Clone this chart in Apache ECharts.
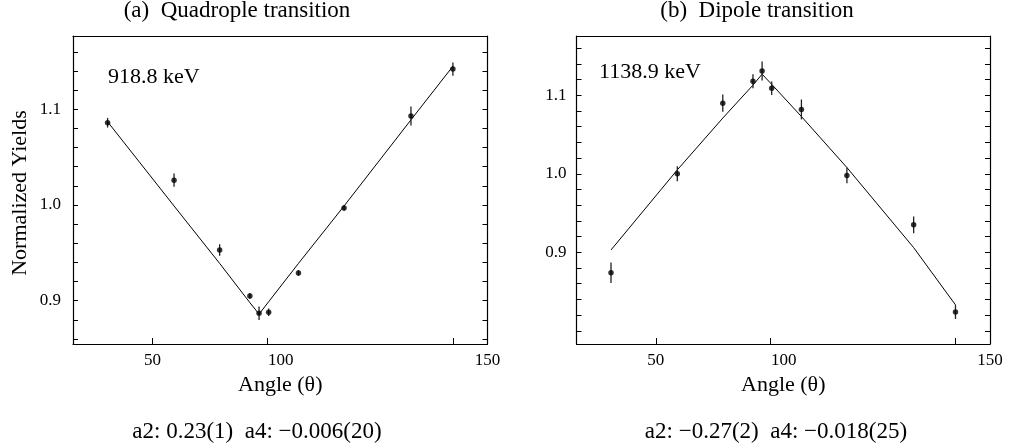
<!DOCTYPE html>
<html>
<head>
<meta charset="utf-8">
<script src="https://cdn.jsdelivr.net/npm/echarts@6/dist/echarts.min.js"></script>
<style>
html,body{margin:0;padding:0;background:#fff;}
#chart{width:1010px;height:444px;}
</style>
</head>
<body>
<div id="chart"></div>
<script>
// ---- data ----
const angles    = [30.4, 59.4, 79.3, 92.5, 96.5, 100.7, 113.7, 133.6, 162.8, 181.1];
const quadYield = [1.086, 1.026, 0.953, 0.905, 0.887, 0.888, 0.929, 0.997, 1.093, 1.142];
const quadErr   = [0.005, 0.007, 0.006, 0.003, 0.007, 0.004, 0.003, 0.003, 0.010, 0.007];
const quadFit   = [1.087, 0.999, 0.939, 0.898, 0.886, 0.899, 0.939, 0.999, 1.089, 1.145];
const dipYield  = [0.874, 1.000, 1.090, 1.118, 1.131, 1.109, 1.082, 0.998, 0.935, 0.824];
const dipErr    = [0.013, 0.0095, 0.011, 0.009, 0.012, 0.0085, 0.0127, 0.010, 0.0106, 0.009];
const dipFit    = [0.903, 1.005, 1.071, 1.113, 1.127, 1.114, 1.073, 1.008, 0.906, 0.833];
const xTickLabels = ['50', '100', '150'];
const yTickLabels = ['0.9', '1.0', '1.1'];
const panelTitles = ['(a)  Quadrople transition', '(b)  Dipole transition'];
const energyLabels = ['918.8 keV', '1138.9 keV'];
const coefLabels = ['a2: 0.23(1)  a4: \u22120.006(20)', 'a2: \u22120.27(2)  a4: \u22120.018(25)'];
const xTitle = 'Angle (\u03b8)';
const yTitle = 'Normalized Yields';

// ---- layout / style ----
const FONT = '"Liberation Serif", "DejaVu Serif", serif';
const X_MIN = 15.3, X_MAX = 196.2;
const xTickAt = [50, 100, 181.2];
const xLabelAt = [50, 106, 196.2];
const yLabelAt = [0.9, 1.0, 1.1];
function ticks(from, to, step) {
  const out = [];
  for (let v = from; v <= to + 1e-9; v += step) out.push(Math.round(v * 100) / 100);
  return out;
}
const panels = [
  {left: 73, width: 414.5, yMin: 0.8548, yMax: 1.1766, yTicks: ticks(0.86, 1.16, 0.02),
   y: quadYield, err: quadErr, fit: quadFit, labelMargin: 12, showYName: true},
  {left: 576.5, width: 413.5, yMin: 0.7832, yMax: 1.1756, yTicks: ticks(0.80, 1.16, 0.02),
   y: dipYield, err: dipErr, fit: dipFit, labelMargin: 10, showYName: false}
];

const grids = [], xAxes = [], yAxes = [], series = [], graphics = [];
panels.forEach((p, k) => {
  grids.push({left: p.left, top: 36, width: p.width, height: 308, containLabel: false});
  // bottom x axis
  xAxes.push({
    type: 'value', gridIndex: k, min: X_MIN, max: X_MAX, position: 'bottom',
    axisLine: {show: true, onZero: false, lineStyle: {color: '#000', width: 1.2}},
    axisTick: {show: true, inside: true, length: 6, customValues: xTickAt, lineStyle: {color: '#000', width: 1}},
    axisLabel: {show: true, customValues: xLabelAt, color: '#000', fontFamily: FONT, fontSize: 17, margin: 8,
      formatter: function (v) {
        let best = 0;
        xLabelAt.forEach((a, i) => { if (Math.abs(a - v) < Math.abs(xLabelAt[best] - v)) best = i; });
        return xTickLabels[best];
      }},
    splitLine: {show: false},
    name: xTitle, nameLocation: 'middle', nameGap: 29,
    nameTextStyle: {color: '#000', fontFamily: FONT, fontSize: 22}
  });
  // top frame
  xAxes.push({
    type: 'value', gridIndex: k, min: X_MIN, max: X_MAX, position: 'top',
    axisLine: {show: true, onZero: false, lineStyle: {color: '#000', width: 1.2}},
    axisTick: {show: false}, axisLabel: {show: false}, splitLine: {show: false}
  });
  // left y axis
  yAxes.push({
    type: 'value', gridIndex: k, min: p.yMin, max: p.yMax, position: 'left',
    axisLine: {show: true, onZero: false, lineStyle: {color: '#000', width: 1.2}},
    axisTick: {show: true, inside: true, length: 5, customValues: p.yTicks, lineStyle: {color: '#000', width: 1}},
    axisLabel: {show: true, customValues: yLabelAt, color: '#000', fontFamily: FONT, fontSize: 17, margin: p.labelMargin,
      formatter: function (v) {
        let best = 0;
        yLabelAt.forEach((a, i) => { if (Math.abs(a - v) < Math.abs(yLabelAt[best] - v)) best = i; });
        return yTickLabels[best];
      }},
    splitLine: {show: false},
    name: p.showYName ? yTitle : '', nameLocation: 'middle', nameGap: 42,
    nameTextStyle: {color: '#000', fontFamily: FONT, fontSize: 22, padding: [0, 0, 0, -6]}
  });
  // right frame
  yAxes.push({
    type: 'value', gridIndex: k, min: p.yMin, max: p.yMax, position: 'right',
    axisLine: {show: true, onZero: false, lineStyle: {color: '#000', width: 1.2}},
    axisTick: {show: true, inside: true, length: 5, customValues: p.yTicks, lineStyle: {color: '#000', width: 1}},
    axisLabel: {show: false}, splitLine: {show: false}
  });
  const xi = 2 * k, yi = 2 * k;
  series.push({
    type: 'line', xAxisIndex: xi, yAxisIndex: yi, z: 2,
    data: angles.map((a, i) => [a, p.fit[i]]),
    showSymbol: false, symbol: 'none', lineStyle: {color: '#000', width: 1}, silent: true
  });
  series.push({
    type: 'custom', xAxisIndex: xi, yAxisIndex: yi, z: 3,
    data: angles.map((a, i) => [a, p.y[i] - p.err[i], p.y[i] + p.err[i]]),
    encode: {x: 0, y: [1, 2]},
    renderItem: function (params, api) {
      const a = api.coord([api.value(0), api.value(1)]);
      const b = api.coord([api.value(0), api.value(2)]);
      return {type: 'line', shape: {x1: a[0], y1: a[1], x2: b[0], y2: b[1]},
              style: {stroke: '#222', lineWidth: 1.3}};
    }
  });
  series.push({
    type: 'scatter', xAxisIndex: xi, yAxisIndex: yi, z: 4,
    data: angles.map((a, i) => [a, p.y[i]]),
    symbol: 'circle', symbolSize: 5.5, itemStyle: {color: '#000'}
  });
});

const titleX = [237, 757];
const energyX = [108, 599];
const energyY = [77, 72];
const coefX = [257, 776];
[0, 1].forEach(k => {
  graphics.push({type: 'text', x: titleX[k], y: 11,
    style: {text: panelTitles[k], font: '23px ' + FONT, fill: '#000', textAlign: 'center', textVerticalAlign: 'middle'}});
  graphics.push({type: 'text', x: energyX[k], y: energyY[k],
    style: {text: energyLabels[k], font: '22px ' + FONT, fill: '#000', textAlign: 'left', textVerticalAlign: 'middle'}});
  graphics.push({type: 'text', x: coefX[k], y: 432,
    style: {text: coefLabels[k], font: '23px ' + FONT, fill: '#000', textAlign: 'center', textVerticalAlign: 'middle'}});
});

const chart = echarts.init(document.getElementById('chart'), null, {renderer: 'canvas'});
chart.setOption({
  animation: false,
  backgroundColor: '#fff',
  grid: grids, xAxis: xAxes, yAxis: yAxes, series: series, graphic: graphics
});
</script>
</body>
</html>
